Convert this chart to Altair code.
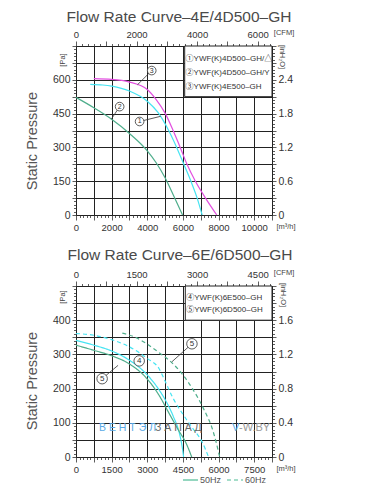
import altair as alt
import pandas as pd

FONT = "Liberation Sans, Arial, Noto Sans CJK SC, sans-serif"

# ---------------- top panel: 4E/4D500-GH (flow m3/h, static pressure Pa)
c1_q = [800, 1500, 2000, 3000, 4000, 4600, 5200, 5650, 6050, 6450, 6800, 7080]
c1_p = [580, 577, 572, 550, 505, 455, 375, 300, 225, 150, 75, 0]
c2_q = [0, 1000, 2000, 3000, 4000, 4500, 5000, 5500, 5980]
c2_p = [522, 476, 425, 362, 285, 232, 165, 82, 0]
c3_q = [1000, 2000, 3000, 4000, 4500, 5000, 5450, 5850, 6230, 6700, 7270, 7900]
c3_p = [605, 602, 590, 557, 512, 452, 375, 300, 225, 150, 75, 0]
top_series = ["1", "2", "3"]
top_colors = ["#45e4f2", "#4fae8c", "#e24fe0"]
top_legend = ["①YWF(K)4D500–GH/△", "②YWF(K)4D500–GH/Y", "③YWF(K)4E500–GH"]
top_legend_y = [693, 630, 566]
top_legend_x = 6150
top_box = [6100, 11000, 525, 750]
top_call_n = ["1", "2", "3"]
top_call_x = [3570, 2450, 4250]
top_call_y = [415, 481, 641]
top_call_tx = [4750, 1980, 3450]
top_call_ty = [438, 425, 578]

# ---------------- bottom panel: 6E/6D500-GH
g50_q = [0, 750, 1500, 2250, 3000, 3500, 3750, 4100, 4350, 4480, 4530]
g50_p = [341, 327, 310, 283, 240, 196, 168, 118, 70, 25, 0]
g60_q = [0, 750, 1500, 2250, 3000, 3500, 3750, 4100, 4500, 4900, 5300, 5580]
g60_p = [361, 356, 343, 322, 288, 258, 222, 170, 125, 85, 45, 0]
d50_q = [0, 750, 1500, 2250, 3000, 3500, 3900, 4300, 4650, 4870]
d50_p = [327, 312, 296, 272, 228, 180, 130, 80, 38, 0]
d60_q = [1950, 2500, 3000, 3500, 4000, 4500, 4900, 5400, 5750, 6050]
d60_p = [362, 350, 330, 305, 278, 240, 200, 137, 80, 0]
bot_legend = ["④YWF(K)6E500–GH", "⑤YWF(K)6D500–GH"]
bot_legend_y = [466, 431]
bot_legend_x = 4640
bot_box = [4600, 8250, 400, 500]
bot_call_n = ["4", "5", "5"]
bot_call_x = [2660, 1100, 4880]
bot_call_y = [281, 229, 331]
bot_lead_x = [1100, 4880]
bot_lead_y = [229, 331]
bot_lead_tx = [1770, 4030]
bot_lead_ty = [268, 278]

TOP_W, TOP_H = 196, 169
BOT_W, BOT_H = 196, 171


def cond(test, a, b):
    return {"condition": {"test": test, "value": a}, "value": b}


def x_axis(step, major, lab, labmax, dmax):
    return alt.Axis(
        orient="bottom", values=list(range(0, dmax + 1, step)), grid=True,
        gridColor="#222", gridWidth=1,
        gridOpacity=cond(f"datum.value % {major} === 0", 1, 0),
        tickColor="#333", tickWidth=0.8,
        tickSize=cond(f"datum.value % {major} === 0", 5, 2.5),
        labelExpr=f"datum.value % {lab} === 0 && datum.value <= {labmax} ? format(datum.value, 'd') : ''",
        labelFont=FONT, labelFontSize=9.5, labelColor="#333", labelPadding=2,
        labelOverlap=False, labelFlush=False, domain=False, title=None)


def y_axis(step, major, lab, labmax, dmax, orient="left", div=None):
    if div is None:
        expr = f"datum.value % {lab} === 0 && datum.value <= {labmax} ? format(datum.value, 'd') : ''"
    else:
        expr = (f"datum.value % {lab} === 0 && datum.value <= {labmax} ? "
                f"(datum.value === 0 ? '0' : format(datum.value / {div}, '.1f')) : ''")
    return alt.Axis(
        orient=orient, values=list(range(0, dmax + 1, step)), grid=(orient == "left"),
        gridColor="#222", gridWidth=1,
        gridOpacity=cond(f"datum.value % {major} === 0", 1, 0),
        tickColor="#333", tickWidth=0.8,
        tickSize=cond(f"datum.value % {major} === 0", 4, 2.5),
        labelExpr=expr, labelFont=FONT, labelFontSize=10.5, labelColor="#333",
        labelPadding=2, labelOverlap=False, labelFlush=False, domain=False, title=None)


def top_axis(step, major, lab, dmax_cfm, dom):
    return alt.X("c:Q", scale=alt.Scale(domain=[0, dom], nice=False, zero=False),
                 axis=alt.Axis(orient="top", values=list(range(0, dmax_cfm + 1, step)), grid=False,
                               tickColor="#333", tickWidth=0.8,
                               tickSize=cond(f"datum.value % {major} === 0", 5, 2.5),
                               labelExpr=f"datum.value % {lab} === 0 ? format(datum.value, 'd') : ''",
                               labelFont=FONT, labelFontSize=9.5, labelColor="#333", labelPadding=2,
                               labelOverlap=False, labelFlush=False, domain=False, title=None))


def txt(s, px, py, size=7.5, angle=0, color="#444", align="center", weight="normal"):
    return alt.Chart(pd.DataFrame({"t": [s]})).mark_text(
        font=FONT, fontSize=size, angle=angle, color=color, align=align, baseline="middle",
        fontWeight=weight
    ).encode(x=alt.value(px), y=alt.value(py), text="t:N")


def panel(curves_df, color_dom, color_rng, dash, xdom, ydom, xa, ya, ra, ta,
          legend, legend_x, legend_y, box, calls, leads, extra, W, H):
    X = alt.X("q:Q", scale=alt.Scale(domain=[0, xdom], nice=False, zero=False), axis=xa)
    Y = alt.Y("p:Q", scale=alt.Scale(domain=[0, ydom], nice=False, zero=False), axis=ya)
    enc = dict(x=X, y=Y,
               color=alt.Color("s:N", scale=alt.Scale(domain=color_dom, range=color_rng), legend=None),
               detail="k:N")
    if dash:
        enc["strokeDash"] = alt.StrokeDash("hz:N", scale=alt.Scale(domain=["50", "60"], range=[[1, 0], [4, 3]]),
                                           legend=None)
    lines = alt.Chart(curves_df).mark_line(interpolate="monotone", strokeWidth=1.2).encode(**enc)
    box_df = pd.DataFrame({"q": [box[0]], "q2": [box[1]], "p": [box[2]], "p2": [box[3]]})
    rect = alt.Chart(box_df).mark_rect(fill="white", stroke="#222", strokeWidth=1).encode(
        x=X, x2="q2:Q", y=Y, y2="p2:Q")
    leg_df = pd.DataFrame({"q": [legend_x] * len(legend), "p": legend_y, "t": legend})
    legt = alt.Chart(leg_df).mark_text(font=FONT, fontSize=8, align="left", baseline="middle",
                                       color="#333").encode(x=X, y=Y, text="t:N")
    lead_df = pd.DataFrame(leads)
    rules = alt.Chart(lead_df).mark_rule(color="#333", strokeWidth=0.8).encode(
        x=X, y=Y, x2="q2:Q", y2="p2:Q")
    call_df = pd.DataFrame(calls)
    circ = alt.Chart(call_df).mark_circle(size=75 if H < 170 else 110, fill="white", stroke="#333",
                                          strokeWidth=0.8, opacity=1).encode(x=X, y=Y)
    ctext = alt.Chart(call_df).mark_text(font=FONT, fontSize=7 if H < 170 else 8, color="#333",
                                         baseline="middle").encode(x=X, y=Y, text="n:N")
    inner = alt.layer(lines, rect, legt, rules, circ, ctext, *extra)
    right = alt.Chart(pd.DataFrame({"p": [0]})).mark_point(opacity=0).encode(
        y=alt.Y("p:Q", scale=alt.Scale(domain=[0, ydom], nice=False, zero=False), axis=ra))
    top = alt.Chart(pd.DataFrame({"c": [0]})).mark_point(opacity=0).encode(x=ta)
    return alt.layer(inner, right, top).resolve_scale(x="independent", y="independent").properties(
        width=W, height=H)


# ---------- build top
rows = []
for s, qq, pp in [("1", c1_q, c1_p), ("2", c2_q, c2_p), ("3", c3_q, c3_p)]:
    for q, p in zip(qq, pp):
        rows.append({"q": q, "p": p, "s": s, "k": s})
top_df = pd.DataFrame(rows)
top_calls = {"q": top_call_x, "p": top_call_y, "n": top_call_n}
top_leads = {"q": top_call_x, "p": top_call_y, "q2": top_call_tx, "p2": top_call_ty}
top_extra = [
    txt("Flow Rate Curve–4E/4D500–GH", 103, -29, size=15.5, color="#4a4a4a"),
    txt("[CFM]", 208, -13),
    txt("[Pa]", -13, 14, angle=270),
    txt("[inH₂O]", 206, 11, angle=90),
    txt("[m³/h]", 210, 181),
    txt("Static  Pressure", -43, 95, size=14.5, angle=270, color="#555"),
]
top_chart = panel(top_df, top_series, top_colors, False, 11000, 750,
                  x_axis(200, 1000, 2000, 10000, 11000),
                  y_axis(15, 75, 150, 600, 750),
                  y_axis(15, 75, 150, 600, 750, orient="right", div=250),
                  top_axis(200, 1000, 2000, 6400, 11000 / 1.699),
                  top_legend, top_legend_x, top_legend_y, top_box, top_calls, top_leads, top_extra,
                  TOP_W, TOP_H)

# ---------- build bottom
rows = []
for s, hz, qq, pp in [("4", "50", g50_q, g50_p), ("4", "60", g60_q, g60_p),
                      ("5", "50", d50_q, d50_p), ("5", "60", d60_q, d60_p)]:
    for q, p in zip(qq, pp):
        rows.append({"q": q, "p": p, "s": s, "hz": hz, "k": s + hz})
bot_df = pd.DataFrame(rows)
bot_calls = {"q": bot_call_x, "p": bot_call_y, "n": bot_call_n}
bot_leads = {"q": bot_lead_x, "p": bot_lead_y, "q2": bot_lead_tx, "p2": bot_lead_ty}
seg = pd.DataFrame({"a": [0]})
bot_extra = [
    txt("Flow Rate Curve–6E/6D500–GH", 104, -31, size=15.5, color="#4a4a4a"),
    txt("[CFM]", 208, -13),
    txt("[Pa]", -13, 11, angle=270),
    txt("[inH₂O]", 207, 9, angle=90),
    txt("[m³/h]", 210, 183),
    txt("Static  Pressure", -43, 95, size=14.5, angle=270, color="#555"),
    alt.Chart(seg).mark_rule(color="#4dbb94", strokeWidth=1.2).encode(
        x=alt.value(107), x2=alt.value(122), y=alt.value(194)),
    txt("50Hz", 124, 194, size=9, color="#555", align="left"),
    alt.Chart(seg).mark_rule(color="#4dbb94", strokeWidth=1.2, strokeDash=[4, 3]).encode(
        x=alt.value(151), x2=alt.value(167), y=alt.value(194)),
    txt("60Hz", 169, 194, size=9, color="#555", align="left"),
    txt("В Е Н Т Э Л", 23, 142, size=10.5, color="#5aa9e6", align="left"),
    txt("З А П А Д", 79, 142, size=10.5, color="#666", align="left"),
    txt("V", 156, 142, size=11, color="#5aa9e6", align="left"),
    txt("-W.BY", 163, 142, size=11, color="#999", align="left"),
]
bot_chart = panel(bot_df, ["4", "5"], ["#4dbb94", "#333333"], True, 8250, 500,
                  x_axis(150, 750, 1500, 7500, 8250),
                  y_axis(10, 50, 100, 400, 500),
                  y_axis(10, 50, 100, 400, 500, orient="right", div=250),
                  top_axis(150, 750, 1500, 4800, 8250 / 1.699),
                  bot_legend, bot_legend_x, bot_legend_y, bot_box, bot_calls, bot_leads, bot_extra,
                  BOT_W, BOT_H)

chart = alt.vconcat(top_chart, bot_chart, spacing=15).properties(
    padding={"left": 16, "top": 1, "right": 0, "bottom": 0}, background="white"
).configure_view(stroke="#222", strokeWidth=1)

chart.save("out.html", embed_options={"renderer": "svg", "actions": False})
